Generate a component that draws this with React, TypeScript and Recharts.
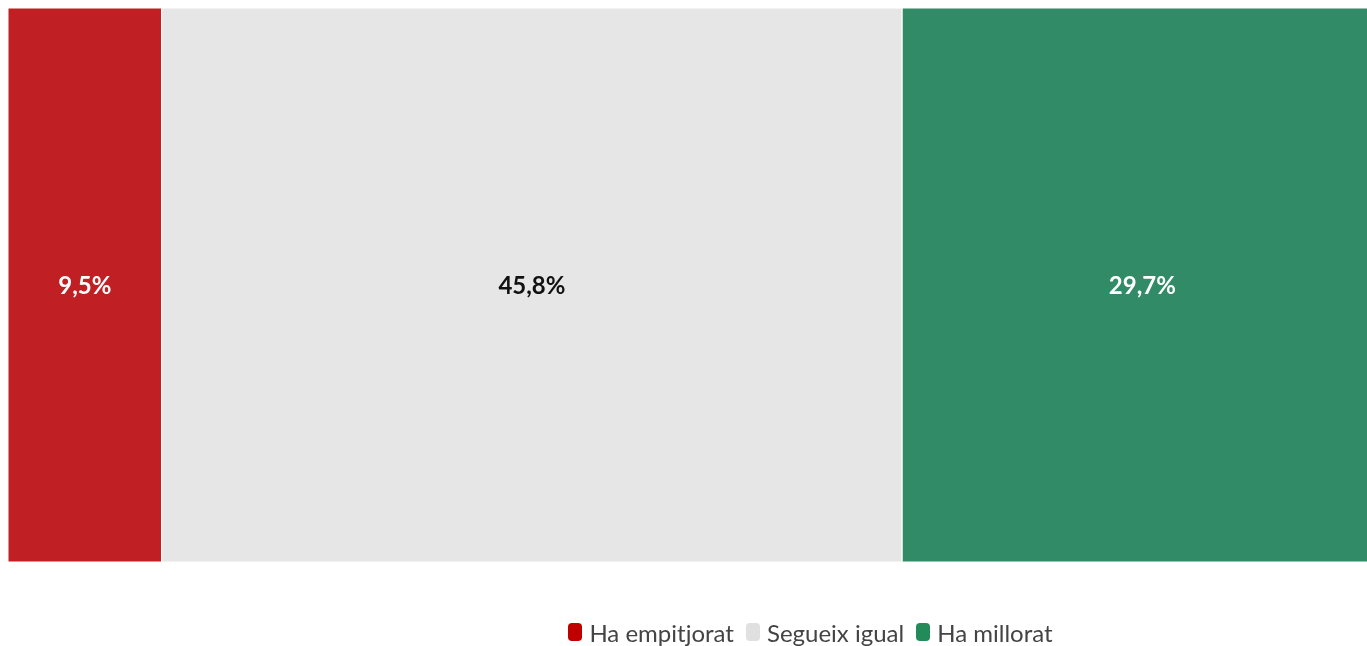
import React from 'react';
import { BarChart, Bar, XAxis, YAxis, Legend, LabelList } from 'recharts';

const categories = ['Total'];
const pitjor = [9.5];
const igual = [45.8];
const millor = [29.7];

const seriesNames = ['Ha empitjorat', 'Segueix igual', 'Ha millorat'];
const seriesColors = ['#C01F23', '#E6E6E6', '#318B67'];
const legendColors = ['#C00000', '#E0E0E0', '#238A5A'];
const labelColors = ['#ffffff', '#111111', '#ffffff'];

const data = categories.map((name, i) => ({
  name,
  pitjor: pitjor[i],
  igual: igual[i],
  millor: millor[i],
}));

const keys = ['pitjor', 'igual', 'millor'];
const fontFamily = 'Lato, "Noto Sans", sans-serif';

const fmt = (v: any) => `${Number(v).toFixed(1).replace('.', ',')}%`;

const LegendContent = (props: any) => {
  const items = [...(props.payload || [])].sort(
    (a: any, b: any) => seriesNames.indexOf(a.value) - seriesNames.indexOf(b.value)
  );
  return (
    <div style={{ height: 36, display: 'flex', justifyContent: 'center', alignItems: 'center', fontFamily, fontSize: 24, color: '#444' }}>
      {items.map((it: any) => (
        <span key={it.value} style={{ display: 'inline-flex', alignItems: 'center', marginRight: 12 }}>
          <span style={{ width: 14, height: 18, borderRadius: 4, background: legendColors[seriesNames.indexOf(it.value)], marginRight: 7, display: 'inline-block' }} />
          {it.value}
        </span>
      ))}
    </div>
  );
};

export default function App() {
  // the chart is wider than the page on purpose: the reference is cropped on the right
  return (
    <div style={{ position: 'fixed', top: 8, left: 8, width: 1359, height: 638, overflow: 'hidden' }}>
      <BarChart
        width={1617}
        height={638}
        data={data}
        layout="vertical"
        margin={{ top: 0, right: 0, left: 0, bottom: 48 }}
        barCategoryGap={0}
      >
        <XAxis type="number" domain={[0, 100]} hide />
        <YAxis type="category" dataKey="name" hide />
        <Legend verticalAlign="bottom" height={36} wrapperStyle={{ bottom: -4 }} content={<LegendContent />} />
        {keys.map((k, i) => (
          <Bar key={k} dataKey={k} name={seriesNames[i]} stackId="a" fill={seriesColors[i]} stroke="#ffffff" strokeWidth={1} isAnimationActive={false}>
            <LabelList dataKey={k} position="center" formatter={fmt} fill={labelColors[i]} style={{ fontFamily, fontWeight: 700, fontSize: 24 }} />
          </Bar>
        ))}
      </BarChart>
    </div>
  );
}
